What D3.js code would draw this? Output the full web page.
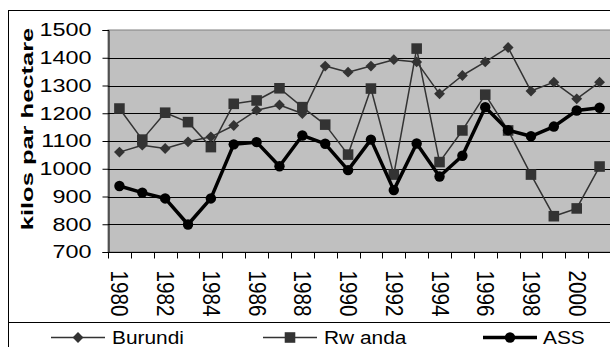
<!DOCTYPE html>
<html>
<head>
<meta charset="utf-8">
<script src="https://cdn.jsdelivr.net/npm/d3@7"></script>
<style>
  body { margin: 0; background: #fff; }
  svg { display: block; font-family: "Liberation Sans", Arial, sans-serif; }
</style>
</head>
<body>
<script>
const years = d3.range(1980, 2002);
const burundi = [1060, 1085, 1073, 1097, 1115, 1156, 1211, 1230, 1199, 1370, 1348, 1370,
  1393, 1385, 1270, 1336, 1385, 1437, 1280, 1312, 1252, 1312];
const rwanda = [1217, 1105, 1202, 1168, 1078, 1234, 1246, 1290, 1222, 1159, 1051, 1289,
  979, 1433, 1024, 1138, 1267, 1138, 979, 829, 857, 1008];
const ass = [938, 914, 893, 799, 893, 1088, 1096, 1009, 1120, 1090, 995, 1105,
  923, 1091, 972, 1047, 1222, 1139, 1117, 1152, 1210, 1220];
const yTicks = [700, 800, 900, 1000, 1100, 1200, 1300, 1400, 1500];
const yLabel = 'kilos par hectare';
const legendNames = ['Burundi', 'Rw anda', 'ASS'];

const width = 610, height = 347;
const plot = { left: 108, right: 611, top: 30, bottom: 252 };

const svg = d3.select('body').append('svg')
  .attr('width', width)
  .attr('height', height);

// outer frame and legend box
svg.append('rect')
  .attr('x', 8.5).attr('y', 10.5)
  .attr('width', 620).attr('height', 350)
  .attr('fill', 'none').attr('stroke', '#000');
svg.append('line')
  .attr('x1', 8.5).attr('x2', 620)
  .attr('y1', 322.5).attr('y2', 322.5)
  .attr('stroke', '#000');

const x = d3.scaleBand()
  .domain(years)
  .range([plot.left, plot.right]);

const y = d3.scaleLinear()
  .domain([700, 1500])
  .range([plot.bottom, plot.top]);

// plot area
svg.append('rect')
  .attr('x', plot.left).attr('y', plot.top)
  .attr('width', plot.right - plot.left)
  .attr('height', plot.bottom - plot.top)
  .attr('fill', '#c0c0c0')
  .attr('stroke', '#808080');

svg.append('g')
  .selectAll('line')
  .data(yTicks.filter(d => d > 700 && d < 1500))
  .join('line')
  .attr('x1', plot.left).attr('x2', plot.right)
  .attr('y1', d => Math.round(y(d)) + 0.5)
  .attr('y2', d => Math.round(y(d)) + 0.5)
  .attr('stroke', '#000');

// y axis (the source text is stretched wide, hence the scale)
const yAxis = svg.append('g')
  .attr('transform', `translate(${plot.left + 0.5},0)`)
  .call(d3.axisLeft(y).tickValues(yTicks).tickSize(6).tickFormat(d3.format('d')));
yAxis.select('.domain').attr('stroke', '#000');
yAxis.selectAll('.tick line').attr('stroke', '#000');
yAxis.selectAll('text')
  .attr('x', 0)
  .attr('transform', 'translate(-17,0) scale(1.3,1)')
  .attr('font-size', 18)
  .attr('font-family', '"Liberation Sans", Arial, sans-serif')
  .attr('fill', '#000');

// x axis
const xAxis = svg.append('g')
  .attr('transform', `translate(0,${plot.bottom + 0.5})`);
xAxis.append('line')
  .attr('x1', plot.left).attr('x2', plot.right)
  .attr('stroke', '#000');
xAxis.selectAll('.tk')
  .data(years)
  .join('line')
  .attr('class', 'tk')
  .attr('x1', d => Math.round(x(d)) + 0.5)
  .attr('x2', d => Math.round(x(d)) + 0.5)
  .attr('y1', 0).attr('y2', 6)
  .attr('stroke', '#000');
xAxis.selectAll('text')
  .data(years.filter(d => d % 2 === 0))
  .join('text')
  .attr('transform', d => `translate(${x(d) + x.bandwidth() / 2 - 8},18) scale(1.37,1.15) rotate(90)`)
  .attr('font-size', 18)
  .attr('fill', '#000')
  .text(d => d);

svg.append('text')
  .attr('transform', `translate(33,129) scale(1,1.5) rotate(-90)`)
  .attr('text-anchor', 'middle')
  .attr('font-size', 17)
  .attr('font-weight', 'bold')
  .text(yLabel);

const cx = d => x(d) + x.bandwidth() / 2;

const series = [
  { values: burundi, stroke: '#333', width: 1.5, marker: 'diamond' },
  { values: rwanda, stroke: '#333', width: 1.5, marker: 'square' },
  { values: ass, stroke: '#000', width: 3.5, marker: 'circle' }
];

const symbolOf = {
  diamond: d3.symbol().type(d3.symbolDiamond2).size(75),
  square: d3.symbol().type(d3.symbolSquare).size(112),
  circle: d3.symbol().type(d3.symbolCircle).size(85)
};

const line = d3.line()
  .x((d, i) => cx(years[i]))
  .y(d => y(d));

series.forEach(s => {
  const g = svg.append('g');
  g.append('path')
    .attr('d', line(s.values))
    .attr('fill', 'none')
    .attr('stroke', s.stroke)
    .attr('stroke-width', s.width)
    .attr('stroke-linejoin', 'round');
  g.selectAll('path.m')
    .data(s.values)
    .join('path')
    .attr('class', 'm')
    .attr('d', symbolOf[s.marker])
    .attr('transform', (d, i) => `translate(${cx(years[i])},${y(d)})`)
    .attr('fill', s.stroke);
});

// legend
const legendX = [51, 263, 483];
legendNames.forEach((name, i) => {
  const s = series[i];
  const g = svg.append('g').attr('transform', `translate(${legendX[i]},337.5)`);
  g.append('line')
    .attr('x1', 0).attr('x2', 54)
    .attr('stroke', s.stroke)
    .attr('stroke-width', s.width);
  g.append('path')
    .attr('d', symbolOf[s.marker])
    .attr('transform', 'translate(27,0)')
    .attr('fill', s.stroke);
  g.append('text')
    .attr('transform', `translate(${i === 2 ? 60 : 61},6.5) scale(1.13,1)`)
    .attr('font-size', 18.5)
    .text(name);
});
</script>
</body>
</html>
